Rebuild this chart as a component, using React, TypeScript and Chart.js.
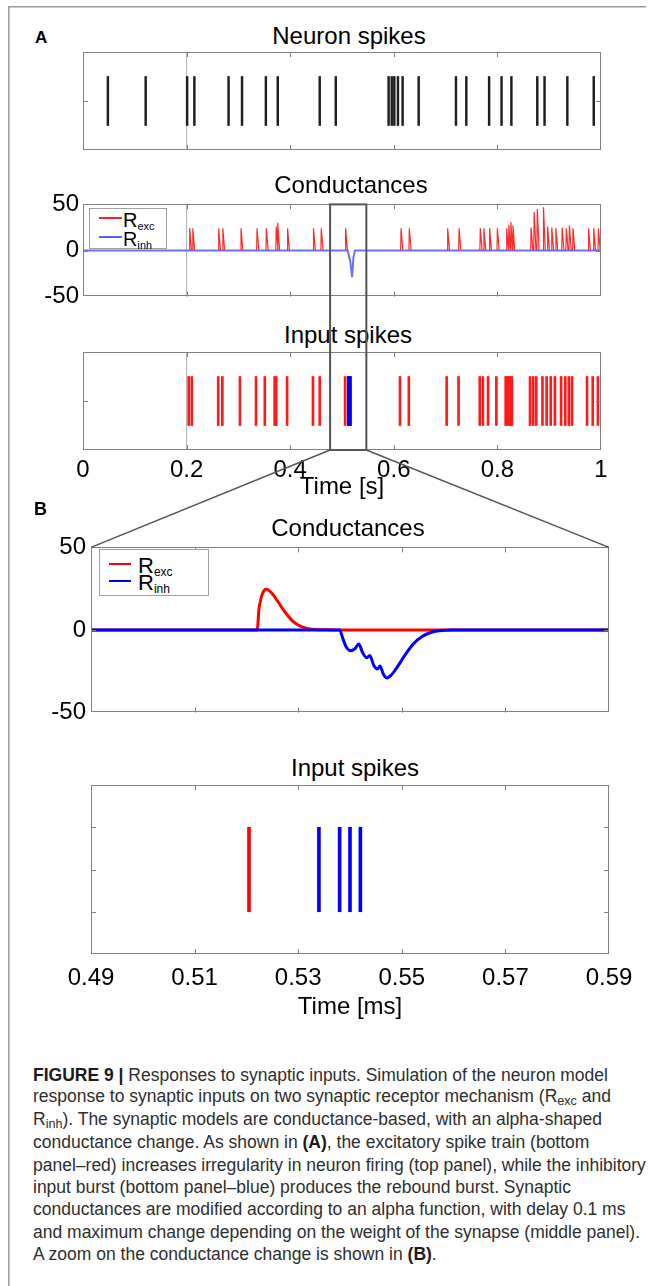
import React, { useEffect, useRef } from 'react';
import { Chart, registerables } from 'chart.js';

Chart.register(...registerables);

const FONT = '"Liberation Sans", Arial, Helvetica, sans-serif';
Chart.defaults.font.family = FONT;

const PAGE_W = 655;
const PAGE_H = 1286;

// ---------------- Panel A data ----------------
const timeTicksA = [0, 0.2, 0.4, 0.6, 0.8, 1];
const onsetTime = 0.2;
const zoomWindow = [0.477, 0.547];
const condTicks = [-50, 0, 50];
const rasterTicksA = [1];

const neuronSpikeTimes = [
  0.048, 0.121, 0.201, 0.215, 0.281, 0.307, 0.353, 0.376, 0.457, 0.488,
  0.59, 0.596, 0.601, 0.608, 0.617, 0.648, 0.72, 0.74, 0.784, 0.808,
  0.827, 0.877, 0.891, 0.935, 0.986,
];

const excSpikeTimesA = [
  0.204, 0.21, 0.261, 0.269, 0.303, 0.334, 0.351, 0.37, 0.373, 0.394,
  0.444, 0.457, 0.506, 0.612, 0.629, 0.702, 0.725, 0.766, 0.772, 0.782,
  0.798, 0.816, 0.819, 0.822, 0.825, 0.828, 0.863, 0.869, 0.875, 0.887,
  0.895, 0.903, 0.911, 0.923, 0.931, 0.938, 0.944, 0.973, 0.984, 0.994,
];
const inhSpikeTimesA = [0.512, 0.5135, 0.515, 0.5165];

const excPeakTimesA = [
  0.206, 0.212, 0.262, 0.27, 0.305, 0.336, 0.354, 0.373, 0.376, 0.395,
  0.445, 0.46, 0.507, 0.614, 0.63, 0.704, 0.726, 0.767, 0.774, 0.785,
  0.8, 0.818, 0.822, 0.826, 0.83, 0.865, 0.871, 0.877, 0.889, 0.897,
  0.905, 0.913, 0.925, 0.933, 0.939, 0.946, 0.976, 0.986, 0.995,
];
const excPeakValuesA = [
  24, 24, 24, 24, 24, 24, 24, 26, 30, 24,
  24, 24, 24, 24, 24, 24, 24, 24, 24, 24,
  24, 24, 28, 31, 27, 25, 42, 45, 47, 26,
  25, 24, 25, 24, 27, 24, 24, 24, 24,
];
const inhCondTimesA = [0, 0.511, 0.516, 0.5195, 0.522, 0.525, 1];
const inhCondValuesA = [0, 0, -12, -29, -8, 0, 0];

// ---------------- Panel B data ----------------
const timeTicksB = [0.49, 0.51, 0.53, 0.55, 0.57, 0.59];
const rasterTicksB = [0.5, 1, 1.5];
const excSpikeTimesB = [0.5205];
const inhSpikeTimesB = [0.534, 0.538, 0.54, 0.542];

const excCondTimesB = [
  0.49, 0.5221, 0.5224, 0.5229, 0.5234, 0.5239, 0.5247, 0.5257, 0.5273,
  0.529, 0.5306, 0.5322, 0.5354, 0.538, 0.59,
];
const excCondValuesB = [
  0, 0, 12, 20, 23.8, 24.6, 23, 19, 11.5, 5.2, 2, 0.6, 0.1, 0, 0,
];
const inhCondTimesB = [
  0.49, 0.538, 0.5386, 0.5393, 0.5401, 0.5409, 0.5417, 0.5424, 0.5432,
  0.5438, 0.5446, 0.5453, 0.5458, 0.5464, 0.5471, 0.5479, 0.5491, 0.5507,
  0.5523, 0.554, 0.5556, 0.5572, 0.5596, 0.59,
];
const inhCondValuesB = [
  0, 0, -5, -10.5, -12.5, -11.5, -8.5, -13.5, -16.8, -15.5, -21.5, -23.6,
  -21.8, -26.5, -29, -27.5, -22.5, -14.8, -8.2, -3.8, -1.5, -0.5, 0, 0,
];

// ---------------- layout ----------------
const POS = {
  neuron: { top: 52, h: 98 },
  condA: { top: 186, h: 129 },
  inputA: { top: 352, h: 150 },
  condB: { top: 528, h: 204 },
  inputB: { top: 785, h: 237 },
};

function framePlugin(id: string, xTicks: number[], yTicks: number[]) {
  return {
    id,
    afterDatasetsDraw(chart: any) {
      const { ctx, chartArea: a, scales } = chart;
      ctx.save();
      ctx.strokeStyle = '#808080';
      ctx.lineWidth = 1;
      const len = 5;
      const seg = (x1: number, y1: number, x2: number, y2: number) => {
        ctx.beginPath();
        ctx.moveTo(x1, y1);
        ctx.lineTo(x2, y2);
        ctx.stroke();
      };
      xTicks.forEach((v) => {
        const px = Math.round(scales.x.getPixelForValue(v)) + 0.5;
        if (px <= a.left + 2 || px >= a.right - 2) return;
        seg(px, a.top, px, a.top + len);
        seg(px, a.bottom, px, a.bottom - len);
      });
      yTicks.forEach((v) => {
        const py = Math.round(scales.y.getPixelForValue(v)) + 0.5;
        if (py <= a.top + 2 || py >= a.bottom - 2) return;
        seg(a.left, py, a.left + len, py);
        seg(a.right, py, a.right - len, py);
      });
      ctx.strokeRect(Math.round(a.left) + 0.5, Math.round(a.top) + 0.5, Math.round(a.right - a.left) - 1, Math.round(a.bottom - a.top) - 1);
      ctx.restore();
    },
  };
}

const setTicks = (vals: number[]) => (s: any) => {
  s.ticks = vals.map((v) => ({ value: v }));
};

function xScale(min: number, max: number, ticks: number[], show: boolean, title?: string, pad = 6, height?: number) {
  return {
    type: 'linear',
    min,
    max,
    offset: false,
    display: show,
    afterBuildTicks: setTicks(ticks),
    ticks: {
      font: { size: 24, family: FONT },
      color: '#000',
      padding: pad,
      maxRotation: 0,
      autoSkip: false,
      callback: (v: number) => String(Number(Number(v).toFixed(2))),
    },
    grid: { display: false, drawTicks: false },
    border: { display: false },
    title: title
      ? { display: true, text: title, font: { size: 24, family: FONT }, color: '#000', padding: 0 }
      : { display: false },
    afterFit: height ? (s: any) => { s.height = height; } : undefined,
  };
}

function yScale(min: number, max: number, ticks: number[], show: boolean, width?: number, pad = 4) {
  return {
    type: 'linear',
    min,
    max,
    display: show,
    afterBuildTicks: setTicks(ticks),
    ticks: { font: { size: 24, family: FONT }, color: '#000', padding: pad, callback: (v: number) => String(v) },
    grid: { display: false, drawTicks: false },
    border: { display: false },
    afterFit: width ? (s: any) => { s.width = width; } : undefined,
  };
}

const spikeSet = (times: number[], color: string, thick: number) => ({
  type: 'bar',
  data: times.map((t) => ({ x: t, y: [0.5, 1.5] })),
  backgroundColor: color,
  borderWidth: 0,
  barThickness: thick,
  grouped: false,
  order: 1,
});

const vline = (t: number, y0: number, y1: number) => ({
  type: 'line',
  data: [{ x: t, y: y0 }, { x: t, y: y1 }],
  borderColor: '#b0b0b0',
  borderWidth: 1,
  pointRadius: 0,
  order: 9,
});

const lineSet = (xs: number[], ys: number[], color: string, width: number, order: number, smooth: boolean) => ({
  type: 'line',
  data: xs.map((x, i) => ({ x, y: ys[i] })),
  borderColor: color,
  borderWidth: width,
  pointRadius: 0,
  cubicInterpolationMode: smooth ? 'monotone' : 'default',
  tension: 0,
  order,
});

const baseOpts = (padding: any) => ({
  responsive: false,
  animation: false,
  events: [],
  layout: { padding },
  plugins: { legend: { display: false }, tooltip: { enabled: false } },
});

const sub = (t: string, size: string, shift: string) => (
  <span style={{ fontSize: size, verticalAlign: shift }}>{t}</span>
);

function Txt(props: { x: number; y: number; size?: number; bold?: boolean; left?: boolean; children: any; color?: string }) {
  const { x, y, size = 24, bold, left, children, color = '#000' } = props;
  return (
    <div
      style={{
        position: 'absolute',
        left: x,
        top: y,
        transform: left ? 'translate(0,-50%)' : 'translate(-50%,-50%)',
        fontSize: size,
        lineHeight: 1,
        whiteSpace: 'nowrap',
        fontWeight: bold ? 'bold' : 'normal',
        color,
        zIndex: 3,
      }}
    >
      {children}
    </div>
  );
}

function Legend(props: { x: number; y: number; w: number; h: number; rows: { y: number; color: string; label: string }[]; lx: number; lw: number; tx: number; size: number; subSize: number }) {
  const { x, y, w, h, rows, lx, lw, tx, size, subSize } = props;
  return (
    <div style={{ position: 'absolute', left: x, top: y, width: w, height: h, border: '1px solid #a0a0a0', background: '#fff', zIndex: 3, boxSizing: 'border-box' }}>
      {rows.map((r, i) => (
        <React.Fragment key={i}>
          <div style={{ position: 'absolute', left: lx - x, top: r.y - y - 1, width: lw, height: 2, background: r.color }} />
          <div style={{ position: 'absolute', left: tx - x, top: r.y - y + 2, transform: 'translate(0,-50%)', fontSize: size, lineHeight: 1, whiteSpace: 'nowrap', color: '#000' }}>
            R<span style={{ fontSize: subSize, position: 'relative', top: 3 }}>{r.label}</span>
          </div>
        </React.Fragment>
      ))}
    </div>
  );
}

export default function App() {
  const neuronRef = useRef<HTMLCanvasElement>(null);
  const condARef = useRef<HTMLCanvasElement>(null);
  const inputARef = useRef<HTMLCanvasElement>(null);
  const condBRef = useRef<HTMLCanvasElement>(null);
  const inputBRef = useRef<HTMLCanvasElement>(null);
  const overlayRef = useRef<HTMLCanvasElement>(null);

  useEffect(() => {
    const charts: Chart[] = [];
    const padA = { left: 83, right: 54, top: 0, bottom: 0 };
    const padB = { left: 91, right: 46, top: 0, bottom: 0 };

    const neuron = new Chart(neuronRef.current as any, {
      type: 'bar',
      data: { datasets: [spikeSet(neuronSpikeTimes, '#1e1e1e', 1.8) as any, vline(onsetTime, 0, 2) as any] },
      options: {
        ...baseOpts(padA),
        scales: { x: xScale(0, 1, timeTicksA, false) as any, y: yScale(0, 2, rasterTicksA, false) as any },
      } as any,
      plugins: [framePlugin('frameNeuron', timeTicksA, rasterTicksA)],
    } as any);
    charts.push(neuron);

    const pulses: any[] = [];
    excPeakTimesA.forEach((t, i) => {
      const h = excPeakValuesA[i];
      pulses.push({ x: t - 0.0008, y: 0 }, { x: t, y: h }, { x: t + 0.0035, y: 0 }, { x: t + 0.0035, y: null });
    });

    const condA = new Chart(condARef.current as any, {
      type: 'line',
      data: {
        datasets: [
          lineSet(inhCondTimesA, inhCondValuesA, 'rgba(95,95,255,0.9)', 2, 0, false) as any,
          { type: 'line', data: pulses, borderColor: 'rgba(255,20,20,0.9)', borderWidth: 1.2, pointRadius: 0, spanGaps: false, order: 1 } as any,
          vline(onsetTime, -50, 50) as any,
        ],
      },
      options: {
        ...baseOpts({ left: 0, right: 54, top: 15, bottom: 15 }),
        scales: { x: xScale(0, 1, timeTicksA, false) as any, y: yScale(-50, 50, condTicks, true, 83, 4) as any },
      } as any,
      plugins: [framePlugin('frameCondA', timeTicksA, condTicks)],
    } as any);
    charts.push(condA);

    const inputA = new Chart(inputARef.current as any, {
      type: 'bar',
      data: {
        datasets: [
          spikeSet(excSpikeTimesA, '#ff1a1a', 2) as any,
          spikeSet(inhSpikeTimesA, '#0000ff', 2) as any,
          vline(onsetTime, 0, 2) as any,
        ],
      },
      options: {
        ...baseOpts(padA),
        scales: { x: xScale(0, 1, timeTicksA, true, 'Time [s]', 6, 52) as any, y: yScale(0, 2, rasterTicksA, false) as any },
      } as any,
      plugins: [framePlugin('frameInputA', timeTicksA, rasterTicksA)],
    } as any);
    charts.push(inputA);

    const condB = new Chart(condBRef.current as any, {
      type: 'line',
      data: {
        datasets: [
          lineSet(inhCondTimesB, inhCondValuesB, '#0000ff', 3, 0, true) as any,
          lineSet(excCondTimesB, excCondValuesB, '#ff0000', 3, 1, true) as any,
        ],
      },
      options: {
        ...baseOpts({ left: 0, right: 46, top: 15, bottom: 15 }),
        scales: { x: xScale(0.49, 0.59, timeTicksB, false) as any, y: yScale(-50, 50, condTicks, true, 91, 5) as any },
      } as any,
      plugins: [framePlugin('frameCondB', timeTicksB, condTicks)],
    } as any);
    charts.push(condB);

    const inputB = new Chart(inputBRef.current as any, {
      type: 'bar',
      data: {
        datasets: [spikeSet(excSpikeTimesB, '#ff0000', 3) as any, spikeSet(inhSpikeTimesB, '#0000ff', 3) as any],
      },
      options: {
        ...baseOpts(padB),
        scales: { x: xScale(0.49, 0.59, timeTicksB, true, 'Time [ms]', 10, 68) as any, y: yScale(0, 2, rasterTicksB, false) as any },
      } as any,
      plugins: [framePlugin('frameInputB', timeTicksB, rasterTicksB)],
    } as any);
    charts.push(inputB);

    // overlay: figure frame, zoom window and connecting lines
    const ov = overlayRef.current;
    if (ov) {
      const ctx = ov.getContext('2d') as CanvasRenderingContext2D;
      ctx.clearRect(0, 0, PAGE_W, PAGE_H);
      ctx.strokeStyle = '#9a9a9a';
      ctx.lineWidth = 1.5;
      ctx.beginPath();
      ctx.moveTo(8.75, PAGE_H);
      ctx.lineTo(8.75, 6.75);
      ctx.lineTo(646, 6.75);
      ctx.stroke();

      const xs = condA.scales.x;
      const x1 = xs.getPixelForValue(zoomWindow[0]);
      const x2 = xs.getPixelForValue(zoomWindow[1]);
      const yTop = POS.condA.top + condA.chartArea.top;
      const yBot = POS.inputA.top + inputA.chartArea.bottom;
      ctx.strokeStyle = '#555';
      ctx.lineWidth = 2;
      ctx.strokeRect(x1, yTop, x2 - x1, yBot - yTop);
      ctx.lineWidth = 1.5;
      const bTop = POS.condB.top + condB.chartArea.top;
      ctx.beginPath();
      ctx.moveTo(x1, yBot);
      ctx.lineTo(condB.chartArea.left, bTop);
      ctx.moveTo(x2, yBot);
      ctx.lineTo(condB.chartArea.right, bTop);
      ctx.stroke();
    }

    return () => {
      charts.forEach((c) => c.destroy());
    };
  }, []);

  const cv = (ref: any, p: { top: number; h: number }) => (
    <canvas ref={ref} width={PAGE_W} height={p.h} style={{ position: 'absolute', left: 0, top: p.top, width: PAGE_W, height: p.h, zIndex: 1 }} />
  );

  const capStyle: any = { position: 'absolute', left: 33, fontSize: 17.5, lineHeight: 1, whiteSpace: 'nowrap', color: '#2e2e2e', transform: 'translate(0,-50%)' };
  const capY = (i: number) => 1076 + i * 22.4;
  const s1 = (t: string) => sub(t, '0.72em', '-0.22em');
  const captionLines: any[] = [
    <><b style={{ color: '#1a1a1a' }}>FIGURE 9 |</b> Responses to synaptic inputs. Simulation of the neuron model</>,
    <>response to synaptic inputs on two synaptic receptor mechanism (R{s1('exc')} and</>,
    <>R{s1('inh')}). The synaptic models are conductance-based, with an alpha-shaped</>,
    <>conductance change. As shown in <b style={{ color: '#1a1a1a' }}>(A)</b>, the excitatory spike train (bottom</>,
    <>panel–red) increases irregularity in neuron firing (top panel), while the inhibitory</>,
    <>input burst (bottom panel–blue) produces the rebound burst. Synaptic</>,
    <>conductances are modified according to an alpha function, with delay 0.1 ms</>,
    <>and maximum change depending on the weight of the synapse (middle panel).</>,
    <>A zoom on the conductance change is shown in <b style={{ color: '#1a1a1a' }}>(B)</b>.</>,
  ];

  return (
    <div style={{ position: 'absolute', left: 0, top: 0, width: PAGE_W, height: PAGE_H, background: '#fff', fontFamily: FONT, overflow: 'hidden' }}>
      {cv(neuronRef, POS.neuron)}
      {cv(condARef, POS.condA)}
      {cv(inputARef, POS.inputA)}
      {cv(condBRef, POS.condB)}
      {cv(inputBRef, POS.inputB)}

      <Txt x={35} y={37} size={17} bold left>A</Txt>
      <Txt x={349} y={36}>Neuron spikes</Txt>
      <Txt x={351} y={185}>Conductances</Txt>
      <Txt x={348} y={335}>Input spikes</Txt>
      <Txt x={34} y={509} size={18} bold left>B</Txt>
      <Txt x={348} y={528}>Conductances</Txt>
      <Txt x={355} y={768}>Input spikes</Txt>

      <Legend x={89} y={208} w={78} h={41} lx={98} lw={23} tx={122} size={20} subSize={11}
        rows={[{ y: 217, color: '#ff2020', label: 'exc' }, { y: 236, color: '#5f5fff', label: 'inh' }]} />
      <Legend x={99} y={549} w={110} h={47} lx={108} lw={22} tx={137} size={22} subSize={12}
        rows={[{ y: 563, color: '#ff0000', label: 'exc' }, { y: 580, color: '#0000ff', label: 'inh' }]} />

      {captionLines.map((l, i) => (
        <div key={i} style={{ ...capStyle, top: capY(i) }}>{l}</div>
      ))}

      <canvas ref={overlayRef} width={PAGE_W} height={PAGE_H} style={{ position: 'absolute', left: 0, top: 0, width: PAGE_W, height: PAGE_H, zIndex: 4, pointerEvents: 'none' }} />
    </div>
  );
}
